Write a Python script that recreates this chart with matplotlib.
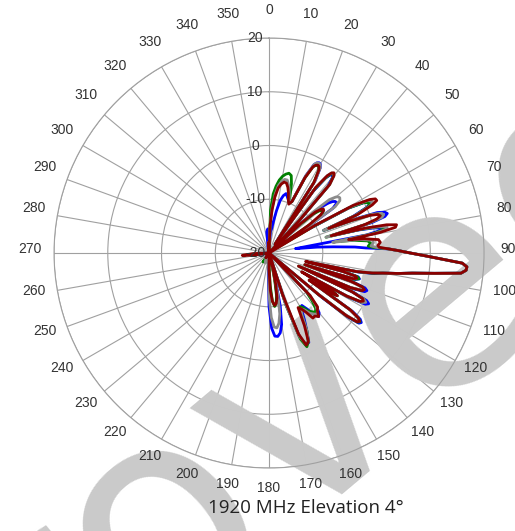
import numpy as np
import matplotlib
matplotlib.use("Agg")
import matplotlib.pyplot as plt

# azimuth grid (deg), denser where the lobes are
angles = ([0, 2, 4, 6, 8, 10, 12, 14, 16, 18, 20, 22, 24]
          + [25.5, 27, 28, 29, 30, 31, 32.5, 34]
          + [35.5, 37, 38, 39, 40, 41.5, 43]
          + [45, 47, 48.5, 50, 51, 52, 53.5, 55, 57]
          + [59, 60.5, 62, 63, 64, 65, 66.5, 67.5]
          + [68.5, 69.5, 70.5, 71.5, 72.5, 73.5, 74.5]
          + [75.5, 76.5, 77.5, 78.5, 79.5, 80.5]
          + [81.5, 83, 84.5, 86, 87]
          + [88, 89, 90, 91, 92, 93, 94, 95, 96, 97, 98, 99, 100]
          + [101, 102, 103, 104, 105, 106, 107, 108, 109, 110, 111, 112, 113, 114, 115,
             116, 117, 118, 119, 120, 121, 122, 123, 124, 125, 126, 127, 128, 129, 130, 132]
          + [134, 136, 138, 140, 142, 144, 146, 148, 150, 152, 154, 156, 158, 160, 162, 164]
          + [166, 168, 170, 172, 174, 176, 178, 180, 182]
          + [186, 200, 214, 230, 250, 262, 265, 268, 280, 320, 350, 354, 357, 360])

main_lobe = [2.2, 4.2, 6.3, 9, 12.1, 16, 16.9, 16.8, 15.9, 11, 6.9, 4.3, 1.5]

red = ([-20, -15, -12, -9.5, -7.8, -7, -6.5, -6.6, -7.3, -8.3, -9.5, -10.2, -9.5]
       + [-4.5, -2, -1.5, -1.3, -1.4, -2, -4.5, -18]
       + [-5, -2, -1.1, -0.8, -1.2, -3, -12]
       + [-20, -12, -8.5, -7.3, -7, -7.1, -8, -11, -20]
       + [-10, -2, 1.2, 2.2, 2.3, 1.2, -2, -8]
       + [-3.5, 0, 1.5, 1.8, 1, -1.5, -8]
       + [-1.5, 2.5, 4.3, 4, 1, -5]
       + [-2, 0.5, 0.8, 0.3, 0.5]
       + main_lobe
       + [-0.5, -3.5, -13, -6, -3.3, -3, -3.6, -13, -4, -1.5, -1, -1.3, -3.5, -14, -3,
          -0.6, -0.3, -0.8, -3.5, -13, -6.5, -5, -6.5, -11, -1.5, 0.5, 1.1, 0.8, -1.5, -8, -20]
       + [-20, -9, -6.5, -6, -5, -5.5, -5.4, -7, -8, -8.5, -5, -2, -1.5, -4, -12, -20]
       + [-17, -14, -11.5, -10.5, -10.2, -11, -13, -17, -20]
       + [-20, -20, -19, -20, -20, -17, -15, -17, -20, -20, -20, -19, -18, -20])

blue = ([-20, -18, -16, -15.5, -14, -12, -10, -9, -8.5, -9, -9.5, -9.8, -9.5]
        + [-4, -1.5, -1, -0.8, -0.9, -1.5, -4, -18]
        + [-6, -2.5, -1.6, -1.3, -1.6, -3.5, -12]
        + [-20, -11, -7, -5.5, -4.8, -4.4, -4.3, -5.5, -14]
        + [-11, -3, 0, 0.8, 0.9, 0, -3, -9]
        + [-2.5, 1.5, 2.8, 3.2, 2.6, 0, -8]
        + [-3, 0, 1.5, 1.2, -1.5, -15]
        + [-14, -11, -8, -4, -2]
        + main_lobe
        + [0, -3, -12, -5.5, -2.8, -2.5, -3.2, -12, -3.5, -1, -0.5, -0.8, -3, -13, -2.5,
           0.2, 0.8, 0.3, -3, -12, -6.5, -5.5, -6.5, -10, -1, 1, 1.5, 1.2, -1, -7, -20]
        + [-20, -10, -7, -5.5, -5, -6, -7.5, -8.5, -8, -6, -4, -1.8, -1.6, -3.5, -10, -20]
        + [-16, -10, -6.5, -5, -4.4, -4.5, -6, -10, -16]
        + [-20, -20, -19, -20, -20, -19, -18, -19, -20, -20, -19, -16, -15.5, -20])

green = ([-20, -12, -9, -7.5, -6.3, -5.5, -5, -4.7, -5, -6.5, -8.5, -10, -9.5]
         + [-4.5, -2, -1.5, -1.4, -1.5, -2, -4.5, -18]
         + [-5.5, -2.5, -1.3, -1, -1.4, -3, -12]
         + [-20, -13, -9, -7.8, -7.4, -7.2, -7.6, -9.5, -18]
         + [-11, -3, 0, 0.6, 0.9, 0.3, -2.5, -9]
         + [-3.5, 0.5, 1.9, 2.2, 1.6, -1, -9]
         + [-2.5, 0.8, 2, 1.9, -0.5, -7]
         + [-4, -1.5, -1, -1.5, -0.5]
         + main_lobe
         + [-0.3, -3.3, -12, -5.5, -3, -2.6, -3.3, -13, -3.8, -1.5, -1.2, -1.4, -3.5, -14, -2.8,
            -0.3, 0, -0.5, -3.3, -12, -6.5, -5, -6.5, -11, -1.5, 0.6, 1.2, 0.9, -1.5, -8, -20]
         + [-20, -10, -8, -6.5, -6, -6.5, -7, -8, -8.5, -7, -4, -2, -1.2, -3, -10, -20]
         + [-18, -15, -12, -10.5, -10, -11, -14, -18, -20]
         + [-20, -19, -18, -20, -20, -20, -19, -20, -20, -20, -20, -20, -19, -20])

gray = ([-20, -15, -11.5, -9, -7.3, -6.5, -6, -6, -6.8, -7.8, -9, -9.8, -9.3]
        + [-4, -1.5, -1, -0.9, -1, -1.5, -4, -18]
        + [-5, -2, -1.1, -0.9, -1.2, -3, -12]
        + [-20, -9, -5, -3.8, -3.4, -3.3, -3.6, -5, -15]
        + [-10, -2.5, 0.8, 1.3, 1.5, 0.8, -2.5, -9]
        + [-3, 0.5, 2.2, 2.5, 2, -1, -9]
        + [-2, 1, 2.5, 2.4, 0, -8]
        + [-3, -0.5, -0.5, -1, 0]
        + main_lobe
        + [-0.8, -3.8, -13, -6, -3.5, -3.1, -3.8, -13, -4.2, -2, -1.5, -1.8, -3.8, -14, -3,
           -0.4, 0.2, -0.4, -3.5, -13, -7, -6, -7.5, -11, -2, 0.3, 1.0, 0.7, -2, -9, -20]
        + [-20, -9, -7, -6, -5.5, -6, -6.5, -7.5, -8, -7, -4, -2, -1.8, -3.5, -10, -20]
        + [-17, -12, -8.5, -6.8, -6, -6.2, -8, -12, -18]
        + [-20, -18, -19, -20, -20, -19, -18, -19, -20, -20, -20, -19, -18, -20])

series = [(blue, "#0000ff"), (green, "#008000"), (gray, "#8c8c8c"), (red, "#8b0000")]

theta_ticks = list(range(0, 360, 10))
r_ticks = [-20, -10, 0, 10, 20]

fig = plt.figure(figsize=(5.15, 5.31), dpi=100)
ax = fig.add_axes([0.1049, 0.1186, 0.835, 0.8098], projection="polar")
ax.set_theta_zero_location("N")
ax.set_theta_direction(-1)
ax.set_ylim(-20, 20)

ax.set_thetagrids(theta_ticks, labels=[])
ax.set_rgrids([-10, 0, 10, 20], labels=[])
ax.grid(True, color="#a0a0a0", lw=0.8)
ax.spines["polar"].set_color("#a0a0a0")
ax.spines["polar"].set_linewidth(0.8)

th = np.deg2rad(angles)
for vals, col in series:
    ax.plot(th, vals, color=col, lw=2.0, solid_joinstyle="round")

# big rotated watermark, over the grid but under the traces and labels
ax.text(0.3146, -0.213, "Approved", transform=fig.transFigure, rotation=40,
        rotation_mode="anchor", ha="center", va="baseline", fontsize=215,
        color="#cacaca", family="DejaVu Sans", zorder=1.8, clip_on=False)

# azimuth labels on a ring a little above the plot centre
for a in theta_ticks:
    ax.annotate(str(a), xy=(np.deg2rad(a), 24.45), xytext=(0, 4),
                textcoords="offset pixels", ha="center", va="center",
                fontsize=10, color="#333333", family="Liberation Sans",
                annotation_clip=False, zorder=3)

# radial labels just left of the 0 deg spoke
for r in r_ticks:
    ax.annotate(str(r), xy=(0, r), xytext=(-14, 0), textcoords="offset pixels",
                ha="center", va="center", fontsize=10, color="#333333",
                family="Liberation Sans", annotation_clip=False, zorder=3)

fig.text(0.594, 0.043, "1920 MHz Elevation 4°", ha="center", va="center",
         fontsize=13.5, color="#222222", family="Open Sans")

fig.savefig("out.png", dpi=100)
